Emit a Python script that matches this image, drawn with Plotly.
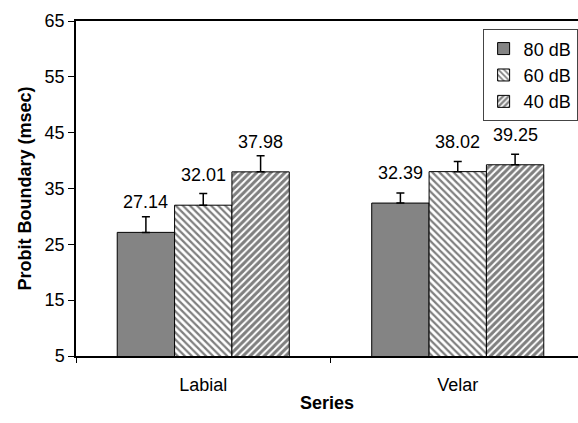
import plotly.graph_objects as go

categories = ["Labial", "Velar"]
series_names = ["80 dB", "60 dB", "40 dB"]
values_80 = [27.14, 32.39]
values_60 = [32.01, 38.02]
values_40 = [37.98, 39.25]
err_80 = [2.8, 1.8]
err_60 = [2.1, 1.8]
err_40 = [2.9, 1.9]
y_ticks = [5, 15, 25, 35, 45, 55, 65]

series_values = [values_80, values_60, values_40]
series_errs = [err_80, err_60, err_40]
styles = [
    dict(color="#848484", pattern=dict(shape="")),
    dict(color="white", pattern=dict(shape="\\", fgcolor="black", bgcolor="white", size=5, solidity=0.45)),
    dict(color="white", pattern=dict(shape="/", fgcolor="black", bgcolor="white", size=5, solidity=0.6)),
]

FONT = "Liberation Sans, Arial, sans-serif"
FS = 18
bargap = 0.324
n = len(series_names)
bw = (1 - bargap) / n
xs = list(range(len(categories)))

fig = go.Figure()
annotations = []
for j, (name, vals, errs, st) in enumerate(zip(series_names, series_values, series_errs, styles)):
    fig.add_trace(go.Bar(
        x=xs, y=vals, name=name, legendgroup=name,
        marker=dict(color=st["color"], pattern=st["pattern"], line=dict(color="black", width=1)),
        error_y=dict(type="data", array=errs, arrayminus=[0] * len(errs), symmetric=False,
                     color="black", thickness=1.5, width=4),
    ))
    for i, v in enumerate(vals):
        annotations.append(dict(
            x=i + (j - (n - 1) / 2) * bw, y=v, xref="x", yref="y",
            text=f"{v:.2f}", showarrow=False, yanchor="middle", yshift=30,
            font=dict(family=FONT, size=FS, color="black"),
        ))

fig.update_layout(
    width=578, height=423,
    margin=dict(l=76, r=0, t=21, b=67),
    paper_bgcolor="white", plot_bgcolor="white",
    barmode="group", bargap=bargap, bargroupgap=0,
    font=dict(family=FONT, size=FS, color="black"),
    showlegend=True,
    legend=dict(x=0.81, y=0.975, xanchor="left", yanchor="top",
                bordercolor="#444", borderwidth=1, bgcolor="white",
                font=dict(family=FONT, size=FS), tracegroupgap=0,
                itemwidth=30),
    annotations=annotations,
)
fig.update_xaxes(
    type="linear", range=[-0.5, 1.4725],
    tickvals=xs, ticktext=categories, ticks="",
    ticklabelstandoff=12,
    minor=dict(tick0=0.5, dtick=1, ticks="outside", ticklen=5, tickcolor="black", tickwidth=1),
    showline=True, linecolor="black", linewidth=1.5, mirror=True,
    showgrid=False, zeroline=False,
    title=dict(text="<b>Series</b>", font=dict(family=FONT, size=FS), standoff=2),
    tickfont=dict(family=FONT, size=FS),
)
fig.update_yaxes(
    range=[5, 65], tickvals=y_ticks, ticks="outside", ticklen=6, tickcolor="black",
    showline=True, linecolor="black", linewidth=1.5, mirror=False,
    showgrid=False, zeroline=False,
    title=dict(text="<b>Probit Boundary (msec)</b>", font=dict(family=FONT, size=FS), standoff=8),
    tickfont=dict(family=FONT, size=FS),
)
fig.write_html("out.html")
